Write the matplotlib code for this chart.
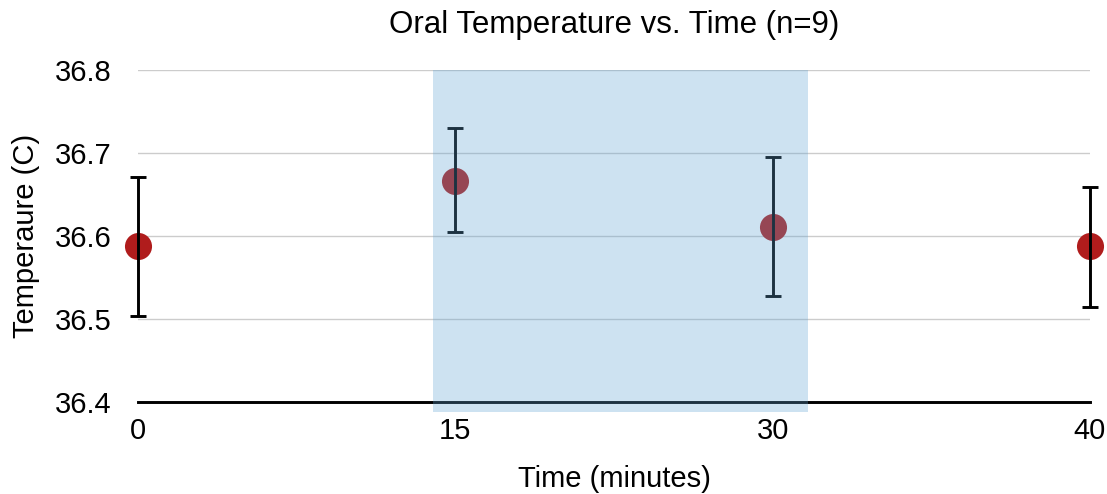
import matplotlib
matplotlib.use("Agg")
import matplotlib.pyplot as plt
import numpy as np

plt.rcParams['font.family'] = ['Liberation Sans', 'DejaVu Sans']

time_labels = ["0", "15", "30", "40"]
mean_temp = [36.588, 36.666, 36.611, 36.588]
err_low = [0.084, 0.061, 0.083, 0.074]
err_high = [0.083, 0.064, 0.084, 0.071]
yticks = [36.4, 36.5, 36.6, 36.7, 36.8]

fig = plt.figure(figsize=(11.07, 4.94), dpi=100)
ax = fig.add_axes([138/1107, 1-402/494, (1090-138)/1107, (402-70)/494])

x = np.arange(len(time_labels))
ax.errorbar(x, mean_temp, yerr=[err_low, err_high], fmt='none', ecolor='black',
            elinewidth=2.1, capsize=6, capthick=2.1, zorder=3, clip_on=False)
ax.plot(x, mean_temp, 'o', color='#b01c1c', markersize=19.5, markeredgewidth=0,
        zorder=2, clip_on=False)

# shaded overlay on top
ax.axvspan(0.93, 2.11, ymin=-0.03, ymax=1.0, color='#5fa4d4', alpha=0.31,
           lw=0, zorder=5, clip_on=False)

ax.set_xlim(0, 3)
ax.set_ylim(36.4, 36.8)
ax.set_yticks(yticks)
ax.set_yticklabels([f"{v:.1f}" for v in yticks])
ax.set_xticks(x)
ax.set_xticklabels(time_labels)
ax.grid(axis='y', color='#cccccc', lw=1)
ax.set_axisbelow(True)
for s in ['top', 'right', 'left']:
    ax.spines[s].set_visible(False)
ax.spines['bottom'].set_linewidth(2.1)
ax.spines['bottom'].set_zorder(4)
ax.tick_params(axis='both', length=0, labelsize=21)
ax.tick_params(axis='y', pad=19)
ax.tick_params(axis='x', pad=11)

ax.set_title("Oral Temperature vs. Time (n=9)", fontsize=22.5, pad=27)
ax.set_xlabel("Time (minutes)", fontsize=21, labelpad=14)
ax.set_ylabel("Temperaure (C)", fontsize=21, labelpad=11)

fig.savefig("out.png", dpi=100)
